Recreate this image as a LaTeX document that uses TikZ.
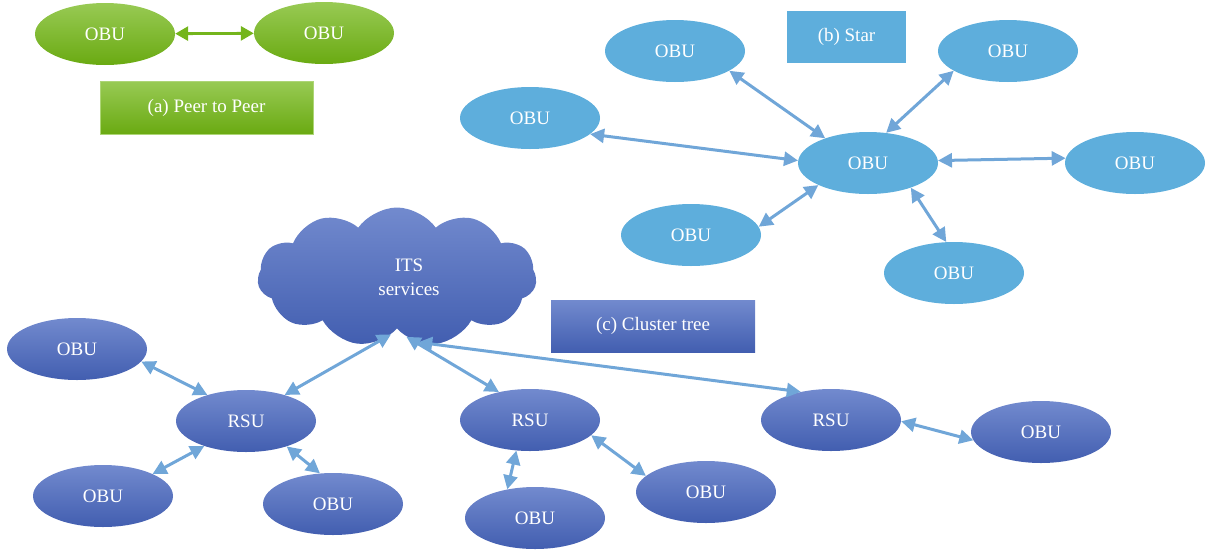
\documentclass[tikz,border=0pt]{standalone}
\usepackage{fontspec}
\setmainfont{Liberation Serif}
\usetikzlibrary{arrows.meta,shapes.geometric,shapes.symbols}
\definecolor{grTop}{RGB}{152,202,84}
\definecolor{grBot}{RGB}{106,170,18}
\definecolor{grLine}{RGB}{116,181,28}
\definecolor{skyFill}{RGB}{94,174,220}
\definecolor{navTop}{RGB}{114,138,206}
\definecolor{navBot}{RGB}{66,94,176}
\definecolor{linkBlue}{RGB}{112,166,216}
\begin{document}
\begin{tikzpicture}[x=1pt,y=-1pt,
  unit/.style={ellipse, minimum width=140pt, minimum height=62pt, inner sep=0pt,
    text=white, font=\fontsize{19}{22}\selectfont},
  greenunit/.style={unit, top color=grTop, bottom color=grBot},
  starunit/.style={unit, fill=skyFill},
  treeunit/.style={unit, top color=navTop, bottom color=navBot},
  caption/.style={rectangle, inner sep=0pt, text=white, font=\fontsize{19}{22}\selectfont},
  link/.style={draw=linkBlue, line width=3pt, {Triangle[length=14pt,width=14pt]}-{Triangle[length=14pt,width=14pt]}},
  greenlink/.style={draw=grLine, line width=2.8pt, {Triangle[length=13pt,width=14pt]}-{Triangle[length=13pt,width=14pt]}}]
\useasboundingbox (0,0) rectangle (1207,557);

% (a) peer to peer
\node[greenunit] (p1) at (105,34) {OBU};
\node[greenunit] (p2) at (324,33) {OBU};
\draw[greenlink] (p1) -- (p2);
\node[caption, minimum width=213pt, minimum height=53pt, top color=grTop, bottom color=grBot,
  draw=grTop!80!white, line width=0.8pt] (capA) at (206.5,107.5) {(a) Peer to Peer};

% (b) star
\node[caption, minimum width=119pt, minimum height=52pt, fill=skyFill] (capB) at (846.5,37) {(b) Star};
\node[starunit] (sc) at (868,163) {OBU};
\node[starunit] (stl) at (675,51) {OBU};
\node[starunit] (str) at (1008,51) {OBU};
\node[starunit] (sl) at (530,118) {OBU};
\node[starunit] (sr) at (1135,163) {OBU};
\node[starunit] (sbl) at (691,235) {OBU};
\node[starunit] (sb) at (954,273) {OBU};
\draw[link] (sc.150) -- (stl.-20);
\draw[link] (sc.59) -- (str.200);
\draw[link] (sc.178) -- (sl.-15);
\draw[link] (sc.2) -- (sr.176);
\draw[link] (sc.204) -- (sbl.7);
\draw[link] (sc.-30) -- (sb.104);

% (c) cluster tree
\node[cloud, cloud puffs=11, cloud puff arc=110, aspect=2, minimum width=279pt, minimum height=139pt,
  inner sep=0pt, top color=navTop, bottom color=navBot, text=white, align=center,
  font=\fontsize{19}{24}\selectfont] (its) at (397,277) {\hspace*{24pt}ITS\\\hspace*{24pt}services};
\node[caption, minimum width=204pt, minimum height=52pt, top color=navTop, bottom color=navBot] (capC) at (653,326) {(c) Cluster tree};

\node[treeunit] (r1) at (246,421) {RSU};
\node[treeunit] (r2) at (530,420) {RSU};
\node[treeunit] (r3) at (831,420) {RSU};
\node[treeunit] (o1) at (77,349) {OBU};
\node[treeunit] (o2) at (103,496) {OBU};
\node[treeunit] (o3) at (333,504) {OBU};
\node[treeunit] (o4) at (535,518) {OBU};
\node[treeunit] (o5) at (706,492) {OBU};
\node[treeunit] (o6) at (1041,432) {OBU};

\draw[link] (its.-96) -- (r1.34);
\draw[link] (its.-81) -- (r2.138);
\draw[link] (its.-72) -- (r3.137);
\draw[link] (o1.-11) -- (r1.146);
\draw[link] (o2.24) -- (r1.211);
\draw[link] (o3.113) -- (r1.-32);
\draw[link] (o4.134) -- (r2.246);
\draw[link] (o5.165) -- (r2.-14);
\draw[link] (o6.187) -- (r3.-1);
\end{tikzpicture}
\end{document}
